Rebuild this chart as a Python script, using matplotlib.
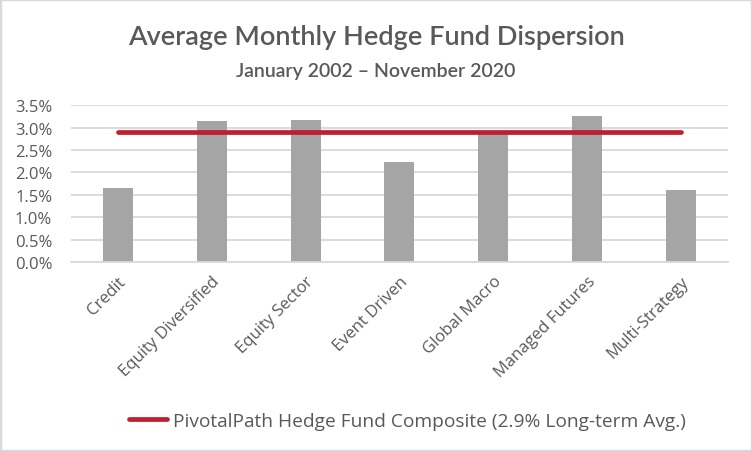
import matplotlib.pyplot as plt
import matplotlib.patches as patches
import numpy as np

# data
strategies = ["Credit", "Equity Diversified", "Equity Sector", "Event Driven",
              "Global Macro", "Managed Futures", "Multi-Strategy"]
dispersion = [1.65, 3.15, 3.17, 2.23, 2.88, 3.27, 1.60]
composite_avg = [2.9] * len(strategies)
legend_label = "PivotalPath Hedge Fund Composite (2.9% Long-term Avg.)"
yticks = [0.0, 0.5, 1.0, 1.5, 2.0, 2.5, 3.0, 3.5]

plt.rcParams['font.family'] = ['Open Sans', 'DejaVu Sans']
txt = '#595959'
grid = '#d9d9d9'

fig = plt.figure(figsize=(7.52, 4.52), dpi=100)
ax = fig.add_axes([0.0944, 0.418, 0.8736, 0.347])

x = np.arange(len(strategies))
ax.bar(x, dispersion, width=0.32, color='#a5a5a5', zorder=2)
line, = ax.plot(x, composite_avg, color='#be1e2d', lw=3.4,
                solid_capstyle='round', zorder=3, label=legend_label)

ax.set_xlim(-0.5, len(strategies) - 0.5)
ax.set_ylim(0, 3.5)
ax.set_yticks(yticks)
ax.set_yticklabels(["%.1f%%" % v for v in yticks])
ax.set_xticks(x)
ax.set_xticklabels(strategies, rotation=45, ha='right', va='top',
                   rotation_mode='anchor')
ax.tick_params(length=0, labelsize=12, labelcolor=txt)
ax.tick_params(axis='y', pad=13.5)
ax.tick_params(axis='x', pad=8)
ax.grid(axis='y', color=grid, lw=1.3, zorder=0)
for s in ['top', 'right', 'left']:
    ax.spines[s].set_visible(False)
ax.spines['bottom'].set_color(grid)
ax.spines['bottom'].set_linewidth(1.3)

fig.text(0.5, 1 - 37 / 452, "Average Monthly Hedge Fund Dispersion",
         ha='center', va='center', fontsize=19.5, color=txt, fontweight='semibold',
         family=['Lato', 'DejaVu Sans'])
fig.text(0.5, 1 - 71 / 452, "January 2002 \u2013 November 2020",
         ha='center', va='center', fontsize=14, color=txt, fontweight='semibold',
         family=['Lato', 'DejaVu Sans'])

fig.legend(handles=[line], loc='center', bbox_to_anchor=(0.542, 1 - 422 / 452),
           frameon=False, fontsize=13.8, labelcolor=txt, handlelength=2.0,
           handletextpad=0.3)

fig.patches.append(patches.Rectangle((0, 0), 1, 1, transform=fig.transFigure,
                                     fill=False, edgecolor=grid, lw=2.5))

fig.savefig('out.png', dpi=100)
